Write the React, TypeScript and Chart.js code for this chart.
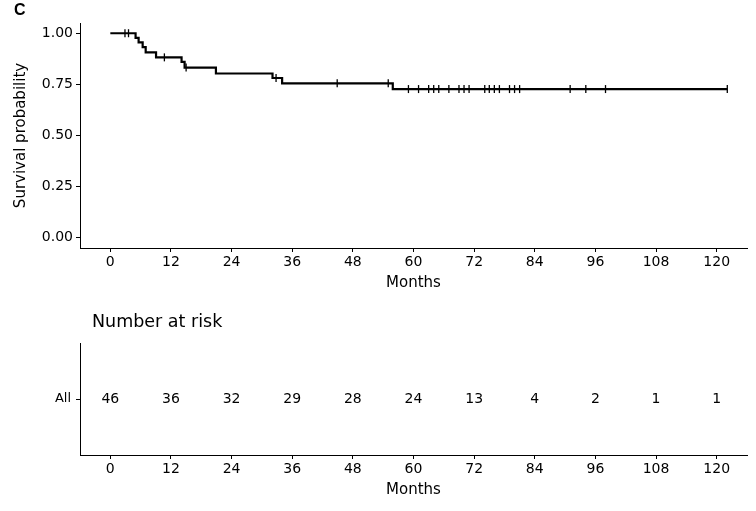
import React, { useEffect, useRef } from "react";
import { Chart, registerables } from "chart.js";

Chart.register(...registerables);

// Kaplan-Meier step points (months, survival probability)
const kmTimes = [0, 5.0, 5.6, 6.4, 7.0, 9.05, 14.1, 14.7, 20.9, 32.1, 34.0, 55.9, 122.1];
const kmSurv = [1, 0.977, 0.955, 0.932, 0.906, 0.882, 0.86, 0.832, 0.803, 0.781, 0.755, 0.727, 0.727];

// Censoring times (months)
const censorTimes = [
  2.9, 3.6, 10.7, 15.0, 32.8, 44.9, 55.0, 59.0, 61.0, 63.0, 64.0, 65.0, 67.0, 69.0, 70.0, 71.0,
  74.1, 75.0, 76.0, 77.0, 79.0, 80.0, 81.0, 91.0, 94.1, 98.0, 122.1,
];

const xTicks = [0, 12, 24, 36, 48, 60, 72, 84, 96, 108, 120];
const yTicks = [0, 0.25, 0.5, 0.75, 1];

// Number at risk table
const riskGroups = ["All"];
const riskTimes = [0, 12, 24, 36, 48, 60, 72, 84, 96, 108, 120];
const riskCounts = [46, 36, 32, 29, 28, 24, 13, 4, 2, 1, 1];

const FONT = "'DejaVu Sans', Verdana, sans-serif";
const INK = "#000";

function survivalAt(t: number): number {
  let s = kmSurv[0];
  for (let i = 0; i < kmTimes.length; i++) {
    if (kmTimes[i] <= t) s = kmSurv[i];
  }
  return s;
}

function xScale(height: number, titleBottom: number) {
  return {
    type: "linear" as const,
    min: -6,
    max: 126,
    afterBuildTicks: (s: any) => {
      s.ticks = xTicks.map((v) => ({ value: v }));
    },
    afterFit: (s: any) => {
      s.height = height;
    },
    grid: { drawOnChartArea: false, drawTicks: true, tickLength: 4, color: INK, lineWidth: 1 },
    border: { display: true, color: INK, width: 1 },
    ticks: {
      color: INK,
      font: { family: FONT, size: 14 },
      padding: 2,
      maxRotation: 0,
      autoSkip: false,
      callback: (v: any) => String(v),
    },
    title: {
      display: true,
      text: "Months",
      color: INK,
      font: { family: FONT, size: 15 },
      padding: { top: 0, bottom: titleBottom },
    },
  };
}

const riskTextPlugin = {
  id: "riskText",
  afterDatasetsDraw(chart: any) {
    const ctx = chart.ctx;
    const meta = chart.getDatasetMeta(0);
    ctx.save();
    ctx.fillStyle = INK;
    ctx.font = `14px ${FONT}`;
    ctx.textAlign = "center";
    ctx.textBaseline = "middle";
    meta.data.forEach((pt: any, i: number) => {
      ctx.fillText(String(riskCounts[i]), pt.x, pt.y);
    });
    ctx.restore();
  },
};

export default function App() {
  const topRef = useRef<HTMLCanvasElement | null>(null);
  const botRef = useRef<HTMLCanvasElement | null>(null);

  useEffect(() => {
    const top = new Chart(topRef.current as HTMLCanvasElement, {
      type: "line",
      data: {
        datasets: [
          {
            type: "line",
            data: kmTimes.map((t, i) => ({ x: t, y: kmSurv[i] })),
            stepped: true,
            borderColor: INK,
            borderWidth: 2.2,
            pointRadius: 0,
            fill: false,
          } as any,
          {
            type: "scatter",
            data: censorTimes.map((t) => ({ x: t, y: survivalAt(t) })),
            pointStyle: "line",
            pointRotation: 90,
            pointRadius: 4,
            pointBorderWidth: 1.3,
            pointBorderColor: INK,
            borderColor: INK,
            showLine: false,
          } as any,
        ],
      },
      options: {
        responsive: false,
        animation: false,
        layout: { padding: { left: 0, top: 23, right: 9, bottom: 0 } },
        plugins: { legend: { display: false }, tooltip: { enabled: false }, title: { display: false } },
        scales: {
          x: xScale(52, 8) as any,
          y: {
            type: "linear",
            min: -0.05,
            max: 1.05,
            afterBuildTicks: (s: any) => {
              s.ticks = yTicks.map((v) => ({ value: v }));
            },
            afterFit: (s: any) => {
              s.width = 80;
            },
            grid: { drawOnChartArea: false, drawTicks: true, tickLength: 4, color: INK, lineWidth: 1 },
            border: { display: true, color: INK, width: 1 },
            ticks: {
              color: INK,
              font: { family: FONT, size: 14 },
              padding: 3,
              callback: (v: any) => Number(v).toFixed(2),
            },
            title: {
              display: true,
              text: "Survival probability",
              color: INK,
              font: { family: FONT, size: 15 },
              padding: { top: 12, bottom: 0 },
            },
          },
        },
      },
    });

    const bot = new Chart(botRef.current as HTMLCanvasElement, {
      type: "scatter",
      data: {
        datasets: [
          {
            data: riskTimes.map((t) => ({ x: t, y: riskGroups[0] })),
            pointRadius: 0,
          } as any,
        ],
      },
      options: {
        responsive: false,
        animation: false,
        layout: { padding: { left: 0, top: 43, right: 9, bottom: 0 } },
        plugins: { legend: { display: false }, tooltip: { enabled: false } },
        scales: {
          x: xScale(56, 12) as any,
          y: {
            type: "category",
            labels: riskGroups,
            offset: true,
            afterFit: (s: any) => {
              s.width = 80;
            },
            grid: { drawOnChartArea: false, drawTicks: true, tickLength: 4, color: INK, lineWidth: 1, offset: false },
            border: { display: true, color: INK, width: 1 },
            ticks: { color: INK, font: { family: FONT, size: 13 }, padding: 5 },
          } as any,
        },
      },
      plugins: [riskTextPlugin],
    });

    return () => {
      top.destroy();
      bot.destroy();
    };
  }, []);

  return (
    <div style={{ position: "absolute", left: 0, top: 0, width: 756, height: 511, background: "#fff" }}>
      <canvas ref={topRef} width={756} height={300} style={{ position: "absolute", left: 0, top: 0 }} />
      <canvas ref={botRef} width={756} height={211} style={{ position: "absolute", left: 0, top: 300 }} />
      <div
        style={{
          position: "absolute",
          left: 14,
          top: 2,
          font: "bold 16px 'Liberation Sans', Arial, sans-serif",
          lineHeight: "16px",
          color: INK,
        }}
      >
        C
      </div>
      <div
        style={{
          position: "absolute",
          left: 92,
          top: 313,
          font: `17.5px ${FONT}`,
          lineHeight: "17.5px",
          color: INK,
          whiteSpace: "nowrap",
        }}
      >
        Number at risk
      </div>
    </div>
  );
}
